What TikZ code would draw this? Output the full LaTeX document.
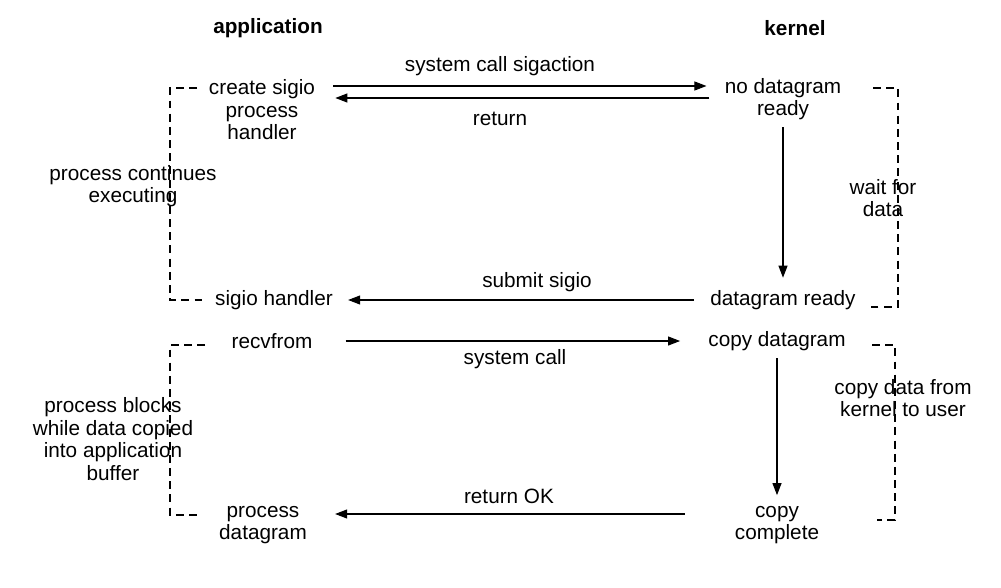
\documentclass[tikz,border=0pt]{standalone}
\usepackage{fontspec}
\setmainfont{Liberation Sans}
\usepackage{tikz}
\usetikzlibrary{arrows.meta,positioning}

\begin{document}
\begin{tikzpicture}[
      x=0.02cm, y=-0.02cm,
      font=\fontsize{11.8}{12.8}\selectfont,
      txt/.style={inner sep=0pt, align=center},
      head/.style={txt, font=\fontsize{11.8}{12.8}\selectfont\bfseries},
      arr/.style={-{Triangle[length=2.4mm, width=1.8mm]}, line width=0.6pt},
      brk/.style={dash pattern=on 4.5pt off 3pt, line width=0.6pt}
    ]
    \useasboundingbox (0,0) rectangle (1001,588);

    % column heads
    \node[head] (app) at (268,28) {application};
    \node[head] (ker) at (795,28) {kernel};

    % application side
    \node[txt] (csh) at (262,110) {create sigio\\process\\handler};
    \node[txt] (sgh) at (274,300) {sigio handler};
    \node[txt] (rcv) at (272,341) {recvfrom};
    \node[txt] (pdg) at (263,525) {process\\datagram};
    \node[txt] (pce) at (133,186) {process continues\\executing};
    \node[txt] (pbl) at (113,439) {process blocks\\while data copied\\into application\\buffer};

    % kernel side
    \node[txt] (nodg) at (783,99) {no datagram\\ready};
    \node[txt] (dgr) at (783,300) {datagram ready};
    \node[txt] (cpd) at (777,341) {copy datagram};
    \node[txt] (ccp) at (777,525) {copy\\complete};
    \node[txt] (wfd) at (883,198) {wait for\\data};
    \node[txt] (cdk) at (903,398) {copy data from\\kernel to user};

    % message labels
    \node[txt] (sca) at (500,66) {system call sigaction};
    \node[txt] (ret) at (500,119) {return};
    \node[txt] (sub) at (537,282) {submit sigio};
    \node[txt] (syc) at (515,359) {system call};
    \node[txt] (rok) at (509,496) {return OK};

    % messages
    \draw[arr] ([shift={(18,-24)}]csh.east) -- ([shift={(-18,-13)}]nodg.west);
    \draw[arr] ([shift={(-15,-1)}]nodg.west) -- ([shift={(20,-12)}]csh.east);
    \draw[arr] ([yshift=-4pt]nodg.south) -- ([yshift=7pt]dgr.north);
    \draw[arr] ([shift={(-16,0)}]dgr.west) -- ([shift={(15,0)}]sgh.east);
    \draw[arr] ([shift={(33,0)}]rcv.east) -- ([shift={(-28,0)}]cpd.west);
    \draw[arr] ([yshift=-4pt]cpd.south) -- ([yshift=6pt]ccp.north);
    \draw[arr] ([shift={(-50,-11)}]ccp.west) -- ([shift={(28,-11)}]pdg.east);

    % brackets
    \draw[brk] (197,88) -- (170,88) -- (170,300) -- (207,300);
    \draw[brk] (873,88) -- (898,88) -- (898,307) -- (871,307);
    \draw[brk] (205,345) -- (170,345) -- (170,515) -- (197,515);
    \draw[brk] (872,345) -- (895,345) -- (895,520) -- (877,520);
\end{tikzpicture}
\end{document}
